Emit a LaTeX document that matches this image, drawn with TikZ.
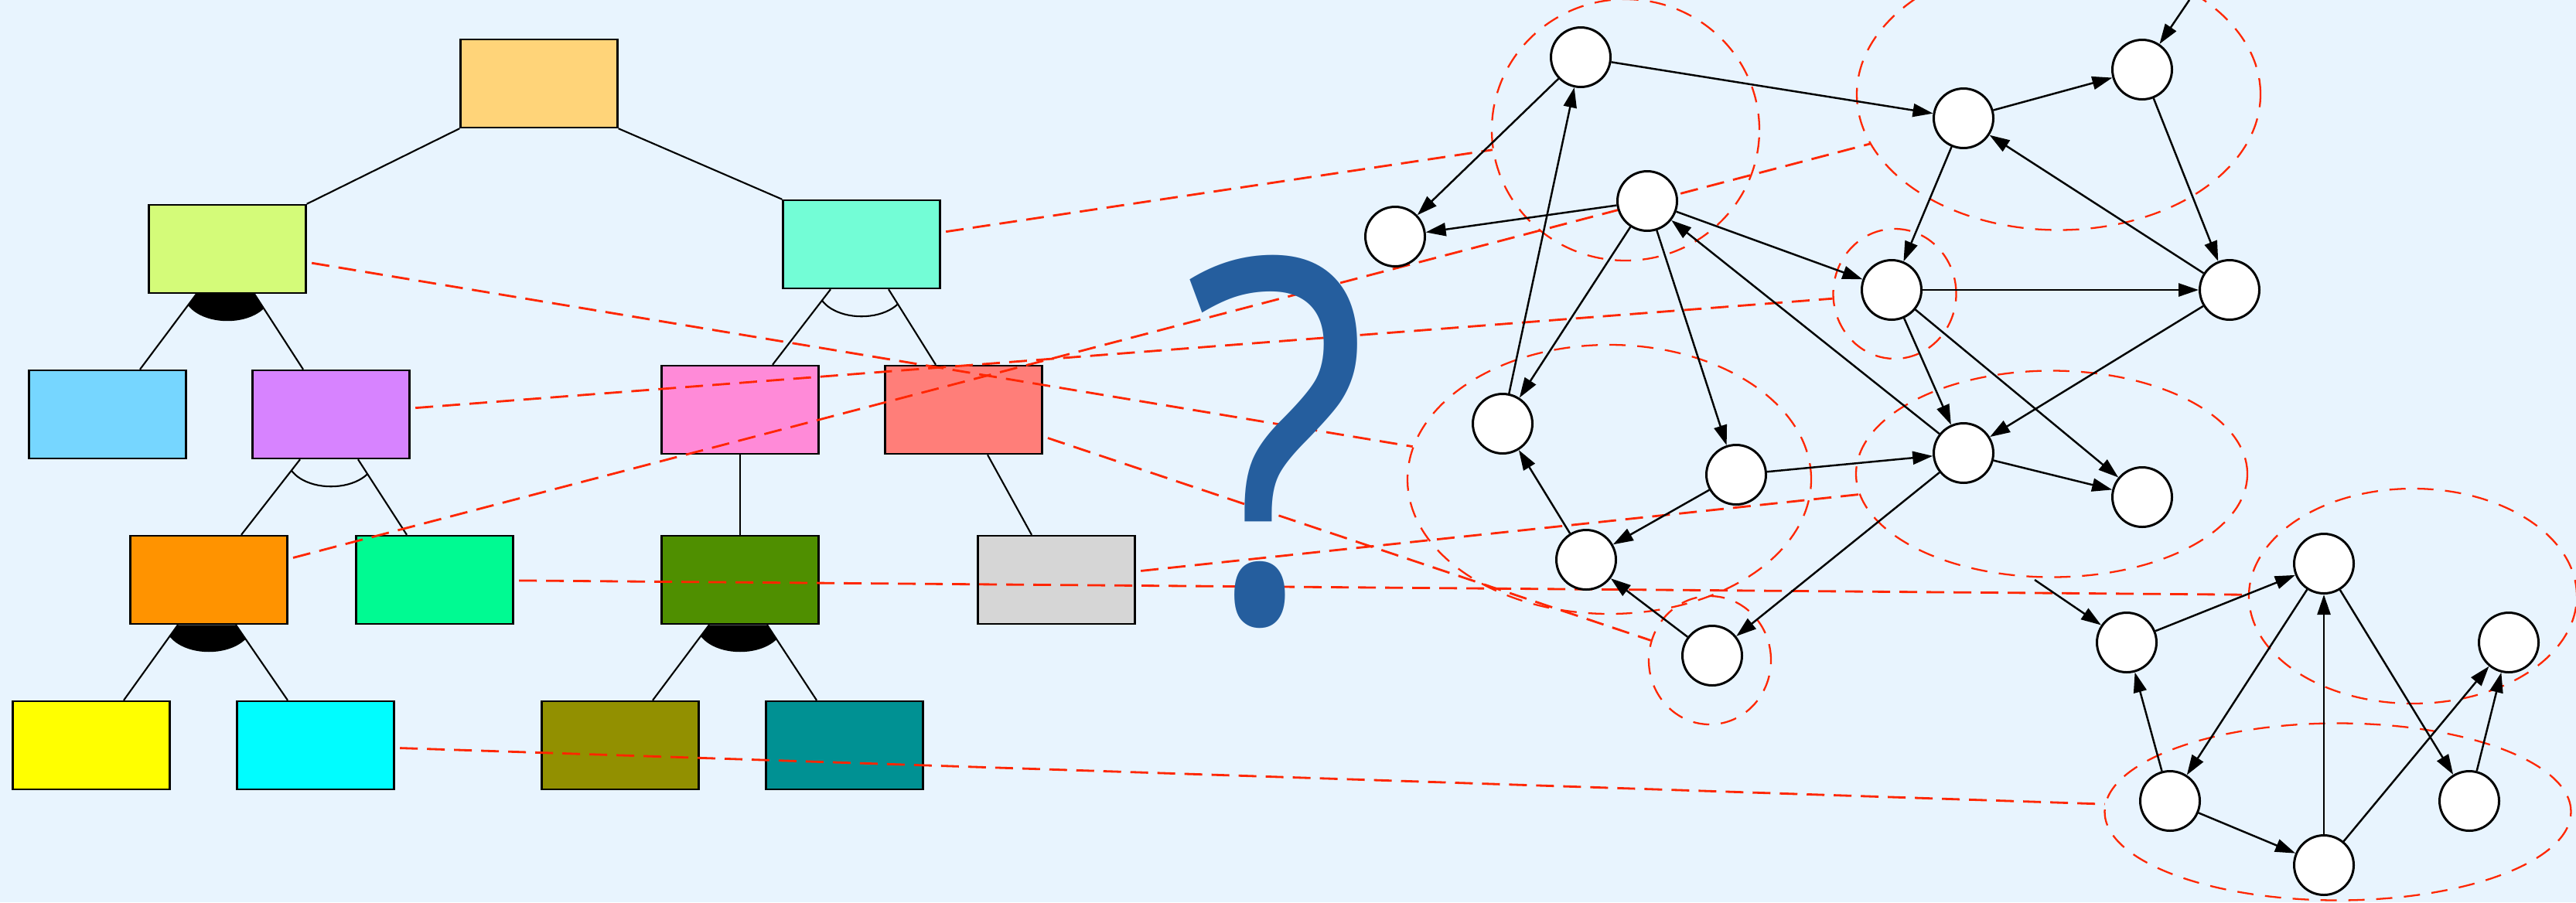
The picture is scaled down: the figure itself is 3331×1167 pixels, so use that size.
\documentclass[tikz,border=0pt]{standalone}
\usepackage{fontspec}
\newfontfamily\qmarkfont{Open Sans}
\usetikzlibrary{shapes.geometric,arrows.meta,calc,positioning}

\definecolor{paper}{RGB}{232,244,254}
\definecolor{cantaloupe}{RGB}{255,212,121}
\definecolor{honeydew}{RGB}{212,251,121}
\definecolor{spindrift}{RGB}{115,253,214}
\definecolor{skyblue}{RGB}{118,214,255}
\definecolor{lavender}{RGB}{215,131,255}
\definecolor{carnation}{RGB}{255,138,216}
\definecolor{salmonred}{RGB}{255,126,121}
\definecolor{tangerine}{RGB}{255,147,0}
\definecolor{seafoam}{RGB}{0,250,146}
\definecolor{clover}{RGB}{79,143,0}
\definecolor{mercury}{RGB}{214,214,214}
\definecolor{lemon}{RGB}{255,255,0}
\definecolor{iceblue}{RGB}{0,253,255}
\definecolor{asparagus}{RGB}{146,144,0}
\definecolor{tealgreen}{RGB}{0,145,147}
\definecolor{maraschino}{RGB}{255,38,0}
\definecolor{qblue}{RGB}{37,94,158}

\newcommand{\bigquery}{{\qmarkfont\fontsize{186}{186}\selectfont\scalebox{0.85}[1]{?}}}

\begin{document}
\begin{tikzpicture}[x=0.1mm, y=-0.1mm,
    box/.style={rectangle, draw, line width=0.7pt, minimum width=20.3mm, minimum height=11.4mm, inner sep=0pt},
    branch/.style={line width=0.6pt},
    vtx/.style={circle, draw, fill=white, line width=0.85pt, minimum size=7.7mm, inner sep=0pt},
    zone/.style={ellipse, draw=maraschino, line width=0.65pt, dash pattern=on 2.1mm off 1.5mm, inner sep=0pt},
    trace/.style={draw=maraschino, line width=0.8pt, dash pattern=on 2.3mm off 1.2mm, shorten <=0.65mm},
    flow/.style={->, line width=0.7pt},
    >={Triangle[length=2.6mm,width=1.7mm]}]

    \useasboundingbox (0,0) rectangle (3331,1167);
    \fill[paper] (0,0) rectangle (3331,1167);

    % Goal tree
    \node[box, fill=cantaloupe] (root) at (697,108) {};
    \node[box, fill=honeydew] (lime) at (294,322) {};
    \node[box, fill=spindrift] (aqua) at (1114,316) {};
    \node[box, fill=skyblue] (sky) at (139,536) {};
    \node[box, fill=lavender] (lav) at (428,536) {};
    \node[box, fill=carnation] (pink) at (957,530) {};
    \node[box, fill=salmonred] (salmon) at (1246,530) {};
    \node[box, fill=tangerine] (tang) at (270,750) {};
    \node[box, fill=seafoam] (foam) at (562,750) {};
    \node[box, fill=clover] (clover) at (957,750) {};
    \node[box, fill=mercury] (mercury) at (1366,750) {};
    \node[box, fill=lemon] (lemon) at (118,964) {};
    \node[box, fill=iceblue] (ice) at (408,964) {};
    \node[box, fill=asparagus] (asp) at (802,964) {};
    \node[box, fill=tealgreen] (teal) at (1092,964) {};

    \draw[branch] (root.south west) -- (lime.north east);
    \draw[branch] (root.south east) -- (aqua.north west);
    \draw[branch] (pink) -- (clover);
    \draw[branch] ($(salmon.south)+(31,0)$) -- ($(mercury.north)+(-32,0)$);

    % Decompositions: filled arc = AND, open arc = OR
    \foreach \p/\l/\r/\mark in {lime/sky/lav/fill, aqua/pink/salmon/draw, lav/tang/foam/draw, tang/lemon/ice/fill, clover/asp/teal/fill} {
        \draw[branch] ($(\p.south)+(-40,0)$) -- ($(\l.north)+(42,0)$);
        \draw[branch] ($(\p.south)+(35,0)$) -- ($(\r.north)+(-36,0)$);
        \begin{scope}
            \clip ($(\p.south)+(-40,0)$) -- ($(\l.north)+(42,0)$) -- ($(\r.north)+(-36,0)$) -- ($(\p.south)+(35,0)$) -- cycle;
            \path[\mark, line width=0.6pt] (\p.south) ellipse [x radius=56, y radius=35];
        \end{scope}
    }

    % Clusters of the state graph
    \node[zone, minimum width=34.6mm, minimum height=33.8mm] (zad) at (2102,168) {};
    \node[zone, minimum width=52.2mm, minimum height=35.1mm] (zbc) at (2662,122) {};
    \node[zone, minimum width=15.9mm, minimum height=16.8mm] (zf) at (2450,380) {};
    \node[zone, minimum width=52.2mm, minimum height=34.8mm] (zhil) at (2081,620) {};
    \node[zone, minimum width=15.8mm, minimum height=16.6mm] (zm) at (2211,854) {};
    \node[zone, minimum width=50.6mm, minimum height=26.7mm] (zjk) at (2653,613) {};
    \node[zone, minimum width=42.4mm, minimum height=27.8mm] (zop) at (3120,771) {};
    \node[zone, minimum width=60.3mm, minimum height=22.9mm] (zqrs) at (3023,1050) {};

    % Goals mapped onto clusters
    \draw[trace] (aqua) -- (zad);
    \draw[trace] (lime) -- (zhil);
    \draw[trace] (lav) -- (zf);
    \draw[trace] (tang) -- (zbc);
    \draw[trace] (foam) -- (zop);
    \draw[trace] (ice) -- (zqrs);
    \draw[trace] (salmon) -- (zm);
    \draw[trace] (mercury) -- (zjk);

    % States
    \node[vtx] (a) at (2044,74) {};
    \node[vtx] (b) at (2539,153) {};
    \node[vtx] (c) at (2770,90) {};
    \node[vtx] (d) at (2130,260) {};
    \node[vtx] (e) at (1804,306) {};
    \node[vtx] (f) at (2446,375) {};
    \node[vtx] (g) at (2883,375) {};
    \node[vtx] (h) at (1943,548) {};
    \node[vtx] (i) at (2245,614) {};
    \node[vtx] (j) at (2539,586) {};
    \node[vtx] (k) at (2770,643) {};
    \node[vtx] (l) at (2051,724) {};
    \node[vtx] (m) at (2214,848) {};
    \node[vtx] (n) at (2750,831) {};
    \node[vtx] (o) at (3005,729) {};
    \node[vtx] (p) at (3244,831) {};
    \node[vtx] (q) at (2806,1036) {};
    \node[vtx] (r) at (3193,1036) {};
    \node[vtx] (s) at (3005,1119) {};
    \coordinate (inc) at (2831,0);
    \coordinate (inn) at (2631,750);

    % Transitions
    \foreach \u/\v in {a/e, h/a, a/b, b/c, c/g, g/b, b/f, d/e, d/f, d/h, d/i, j/d, f/g, f/j, f/k,
                       g/j, i/j, i/l, l/h, m/l, j/m, j/k, inn/n, n/o, o/q, o/r, q/n, q/s, s/o, s/p, r/p, inc/c}
        \draw[flow] (\u) -- (\v);

    % Question mark
    \node[anchor=base, inner sep=0pt, text=qblue] (qmark) at (1651,803) {\bigquery};
\end{tikzpicture}
\end{document}
